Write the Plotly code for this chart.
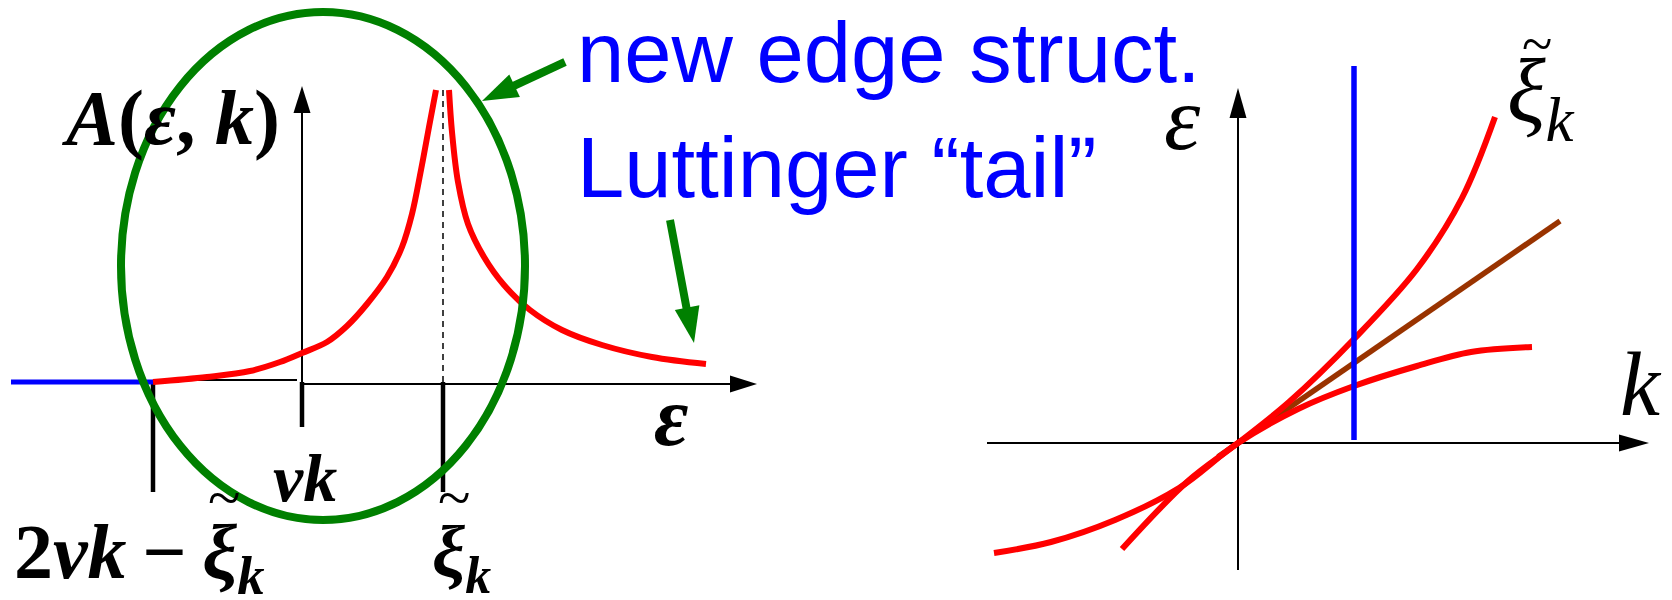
import math
import plotly.graph_objects as go

W, H = 1672, 600

# ---------------- left panel: spectral function A(eps, k) vs eps ----------------
# units: eps measured from vk, A in arbitrary units
lower_branch_eps = [-1.49, -0.95, -0.52, -0.22, 0.0, 0.25, 0.45, 0.65, 0.85, 1.00, 1.10, 1.19, 1.27, 1.34]
lower_branch_A = [0.0, 0.05, 0.11, 0.20, 0.29, 0.40, 0.56, 0.78, 1.05, 1.35, 1.68, 2.12, 2.55, 2.92]
tail_eps = [1.47, 1.50, 1.56, 1.66, 1.82, 2.02, 2.28, 2.60, 3.00, 3.50, 4.04]
tail_A = [2.92, 2.50, 2.00, 1.58, 1.25, 0.97, 0.72, 0.52, 0.37, 0.25, 0.18]
gap_eps = [-2.91, -1.49]          # A = 0 below the threshold 2vk - xi_k
gap_A = [0.0, 0.0]
edge_threshold = -1.49            # 2vk - xi_k
vk_pos = 0.0                      # vk
xi_pos = 1.41                     # xi_k

# ---------------- right panel: dispersions eps(k) ----------------
xi_k = [-1.16, -0.50, 0.0, 0.51, 1.16, 1.79, 2.24, 2.57]
xi_eps = [-1.06, -0.38, 0.0, 0.41, 1.04, 1.74, 2.45, 3.26]
lower_k = [-2.44, -1.87, -1.23, -0.59, 0.0, 0.60, 1.16, 1.79, 2.33, 2.94]
lower_eps = [-1.10, -0.99, -0.77, -0.45, 0.0, 0.34, 0.57, 0.77, 0.91, 0.96]
linear_k = [-0.2, 3.22]
linear_eps = [-0.138, 2.22]
cut_k = 1.16
cut_eps = [0.03, 3.77]

RED, BLUE, GREEN, BROWN = "#FF0000", "#0000FF", "#008000", "#993300"
SERIF = "Liberation Serif, DejaVu Serif, serif"
SANS = "Liberation Sans, Arial, sans-serif"
THIN = "\u2009"

fig = go.Figure()

L = dict(xaxis="x", yaxis="y")
R = dict(xaxis="x2", yaxis="y2")


def line(x, y, color, width, axes, shape="linear", dash="solid"):
    fig.add_trace(go.Scatter(x=x, y=y, mode="lines", hoverinfo="skip",
                             line=dict(color=color, width=width, shape=shape, dash=dash),
                             showlegend=False, **axes))


def head(tip, frm, length, width, color, xref, yref):
    dx, dy = tip[0] - frm[0], tip[1] - frm[1]
    n = math.hypot(dx, dy)
    ux, uy = dx / n, dy / n
    bx, by = tip[0] - ux * length, tip[1] - uy * length
    px, py = -uy * width / 2, ux * width / 2
    path = (f"M {tip[0]} {tip[1]} L {bx + px} {by + py} L {bx - px} {by - py} Z")
    fig.add_shape(type="path", path=path, fillcolor=color, line=dict(width=0),
                  xref=xref, yref=yref, layer="above")


# left axes
line([-1.49, -0.05], [0.02, 0.02], "black", 2, L)
line([0.0, 4.30], [-0.02, -0.02], "black", 2, L)
head((4.55, -0.02), (0, -0.02), 0.27, 0.17, "black", "x", "y")
line([0.0, 0.0], [0.0, 2.70], "black", 2, L)
head((0.0, 2.96), (0.0, 0.0), 0.27, 0.17, "black", "x", "y")

# ticks
line([edge_threshold, edge_threshold], [0.0, -1.10], "black", 4.5, L)
line([vk_pos, vk_pos], [0.0, -0.45], "black", 4.5, L)
line([xi_pos, xi_pos], [0.0, -1.10], "black", 4.5, L)
line([xi_pos, xi_pos], [0.0, 2.92], "black", 1.5, L, dash="6px,5px")

# spectral weight
line(gap_eps, gap_A, BLUE, 5, L)
line(lower_branch_eps, lower_branch_A, RED, 6, L, shape="spline")
line(tail_eps, tail_A, RED, 6, L, shape="spline")

# green ellipse and arrows
fig.add_shape(type="circle", xref="x", yref="y", x0=-1.81, x1=2.23, y0=-1.38, y1=3.70,
              line=dict(color=GREEN, width=8), layer="above")
line([2.63, 2.05], [3.20, 2.93], GREEN, 8, L)
head((1.80, 2.81), (2.63, 3.20), 0.36, 0.25, GREEN, "x", "y")
line([3.68, 3.86], [1.62, 0.66], GREEN, 8, L)
head((3.92, 0.39), (3.68, 1.62), 0.36, 0.25, GREEN, "x", "y")

# right axes
line([-2.51, 3.85], [0.0, 0.0], "black", 2, R)
head((4.11, 0.0), (0.0, 0.0), 0.30, 0.17, "black", "x2", "y2")
line([0.0, 0.0], [-1.27, 3.30], "black", 2, R)
head((0.0, 3.55), (0.0, 0.0), 0.30, 0.17, "black", "x2", "y2")

# dispersions
line(linear_k, linear_eps, BROWN, 5.5, R)
line(xi_k, xi_eps, RED, 6, R, shape="spline")
line(lower_k, lower_eps, RED, 6, R, shape="spline")
line([cut_k, cut_k], cut_eps, BLUE, 5.5, R)

ax_off = dict(visible=False, showgrid=False, zeroline=False, fixedrange=True)
fig.update_layout(
    width=W, height=H, margin=dict(l=0, r=0, t=0, b=0),
    paper_bgcolor="white", plot_bgcolor="rgba(0,0,0,0)",
    xaxis=dict(domain=[0, 760 / W], range=[-3.02, 4.58], **ax_off),
    yaxis=dict(domain=[0, 1], range=[-2.18, 3.82], **ax_off),
    xaxis2=dict(domain=[760 / W, 1], range=[-4.78, 4.34], **ax_off),
    yaxis2=dict(domain=[0, 1], range=[-1.57, 4.43], anchor="x2", **ax_off),
)


def text(s, x, y, size, color="black", family=SERIF, xanchor="center", weight="normal"):
    fig.add_annotation(text=s, x=x / W, y=1 - y / H, xref="paper", yref="paper",
                       xanchor=xanchor, yanchor="middle", showarrow=False,
                       font=dict(size=size, color=color, family=family, weight=weight))


text("<i>A</i>(<i>ε</i>, <i>k</i>)", 170, 117, 78, weight="bold")
text("<i>vk</i>", 305, 478, 68, weight="bold")
text(f"2<i>vk</i>{THIN}−{THIN}<i>ξ</i><sub><i>k</i></sub>", 139, 557, 78, weight="bold")
text("~", 224, 498, 60)
text("<i>ξ</i><sub><i>k</i></sub>", 461, 557, 74, weight="bold")
text("~", 454, 498, 60)
text("<i>ε</i>", 671, 417, 84, weight="bold")

text("<i>ε</i>", 1182, 118, 92)
text("<i>ξ</i><sub><i>k</i></sub>", 1541, 98, 90)
text("~", 1537, 44, 56)
text("<i>k</i>", 1641, 384, 90)

text("new edge struct.", 575, 52, 85, color=BLUE, family=SANS, xanchor="left")
text("Luttinger “tail”", 575, 167, 85, color=BLUE, family=SANS, xanchor="left")

fig.write_html("out.html")
